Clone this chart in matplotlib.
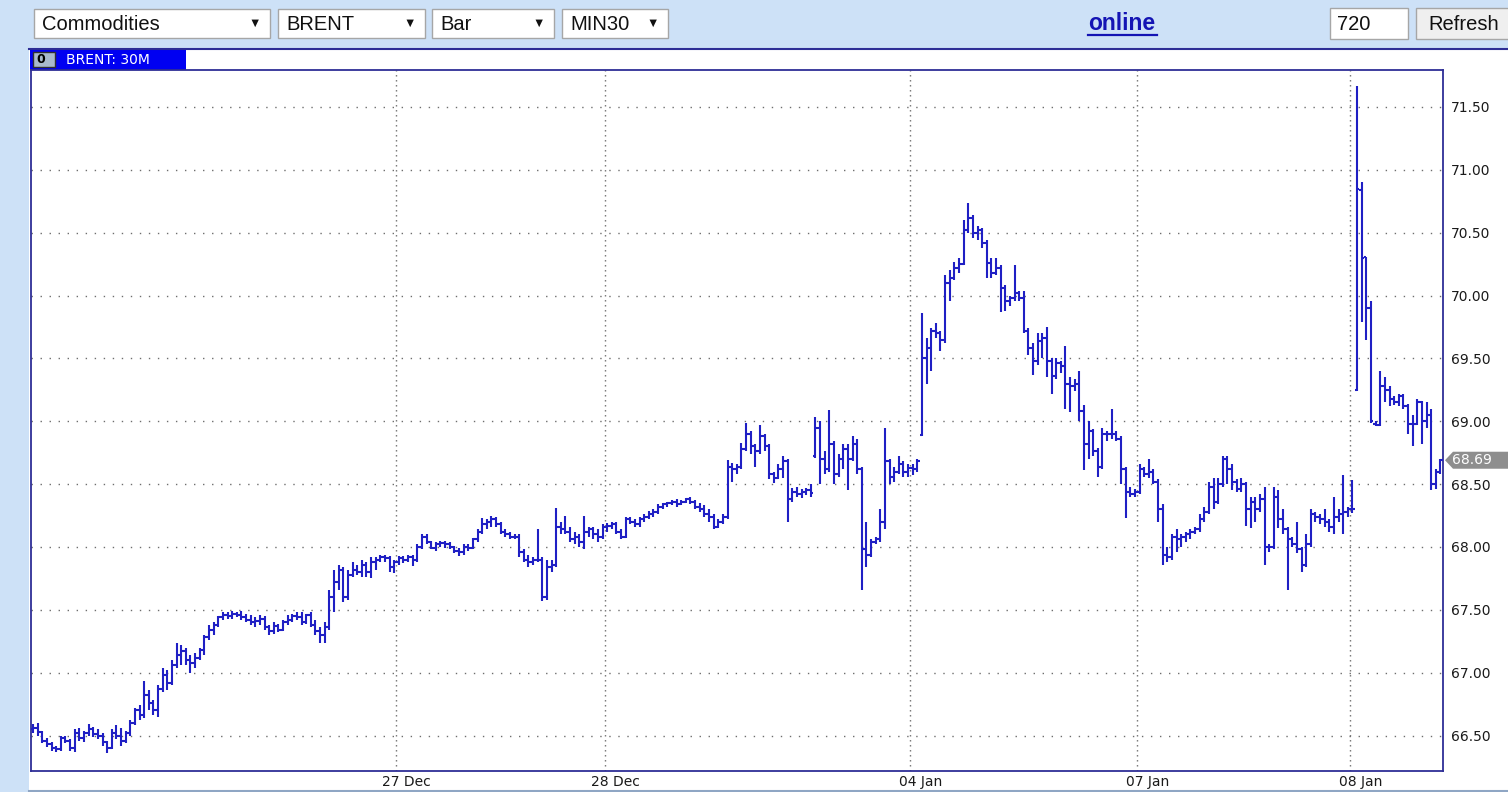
import matplotlib
matplotlib.use('Agg')
import matplotlib.pyplot as plt
from matplotlib.patches import Rectangle, Polygon
import numpy as np

# BRENT 30 minute bars (bar index = position on x axis)
opens = [
    66.55, 66.56, 66.53, 66.46, 66.43, 66.40, 66.39, 66.48, 66.46, 66.40,
    66.52, 66.48, 66.52, 66.55, 66.51, 66.50, 66.45, 66.40, 66.52, 66.50,
    66.46, 66.52, 66.60, 66.70, 66.66, 66.82, 66.76, 66.70, 66.87, 66.98,
    66.92, 67.06, 67.14, 67.17, 67.10, 67.08, 67.12, 67.18, 67.28, 67.34,
    67.38, 67.44, 67.46, 67.45, 67.47, 67.46, 67.44, 67.42, 67.40, 67.41,
    67.43, 67.36, 67.33, 67.37, 67.34, 67.40, 67.42, 67.45, 67.44, 67.40,
    67.46, 67.38, 67.33, 67.30, 67.36, 67.60, 67.72, 67.82, 67.60, 67.78,
    67.82, 67.80, 67.86, 67.80, 67.88, 67.90, 67.92, 67.91, 67.84, 67.88,
    67.91, 67.90, 67.92, 67.90, 68.00, 68.08, 68.04, 67.99, 68.02, 68.03,
    68.02, 68.00, 67.97, 67.96, 68.00, 67.99, 68.06, 68.12, 68.18, 68.20,
    68.22, 68.18, 68.12, 68.10, 68.08, 68.08, 67.96, 67.90, 67.88, 67.90,
    67.90, 67.60, 67.84, 67.86, 68.16, 68.14, 68.12, 68.06, 68.08, 68.04,
    68.12, 68.14, 68.10, 68.08, 68.16, 68.17, 68.18, 68.12, 68.08, 68.22,
    68.20, 68.18, 68.22, 68.24, 68.26, 68.28, 68.32, 68.34, 68.35, 68.36,
    68.34, 68.36, 68.38, 68.36, 68.32, 68.30, 68.26, 68.24, 68.16, 68.20,
    68.24, 68.64, 68.62, 68.64, 68.78, 68.90, 68.80, 68.76, 68.88, 68.80,
    68.58, 68.55, 68.62, 68.68, 68.38, 68.44, 68.42, 68.44, 68.45, 68.72,
    68.95, 68.70, 68.62, 68.82, 68.58, 68.70, 68.78, 68.70, 68.82, 68.62,
    67.98, 67.94, 68.04, 68.06, 68.20, 68.68, 68.56, 68.60, 68.66, 68.60,
    68.63, 68.62, 68.89, 69.50, 69.58, 69.72, 69.70, 69.65, 70.10, 70.14,
    70.22, 70.25, 70.52, 70.62, 70.50, 70.52, 70.42, 70.26, 70.18, 70.22,
    70.06, 69.96, 69.98, 70.02, 69.98, 69.72, 69.58, 69.48, 69.64, 69.66,
    69.48, 69.36, 69.46, 69.44, 69.30, 69.28, 69.30, 69.08, 68.82, 68.92,
    68.76, 68.64, 68.90, 68.90, 68.90, 68.86, 68.62, 68.44, 68.42, 68.44,
    68.62, 68.58, 68.60, 68.52, 68.30, 67.94, 67.92, 68.08, 68.06, 68.08,
    68.10, 68.12, 68.14, 68.22, 68.28, 68.48, 68.36, 68.50, 68.70, 68.62,
    68.52, 68.46, 68.50, 68.30, 68.36, 68.30, 68.38, 68.00, 68.00, 68.40,
    68.22, 68.14, 68.06, 68.02, 67.98, 67.86, 68.02, 68.26, 68.24, 68.22,
    68.20, 68.16, 68.24, 68.26, 68.28, 68.30, 69.25, 70.84, 70.31, 69.90,
    68.98, 68.97, 69.28, 69.25, 69.18, 69.15, 69.20, 69.12, 68.98, 68.98,
    69.15, 69.00, 69.05, 68.50, 68.60,
]
highs = [
    66.59, 66.60, 66.54, 66.48, 66.45, 66.42, 66.50, 66.50, 66.47, 66.55,
    66.56, 66.54, 66.59, 66.57, 66.55, 66.52, 66.46, 66.55, 66.58, 66.56,
    66.54, 66.62, 66.72, 66.74, 66.93, 66.86, 66.78, 66.90, 67.04, 67.02,
    67.10, 67.24, 67.22, 67.20, 67.14, 67.16, 67.20, 67.30, 67.38, 67.40,
    67.45, 67.48, 67.48, 67.49, 67.48, 67.49, 67.47, 67.46, 67.44, 67.46,
    67.45, 67.38, 67.40, 67.39, 67.42, 67.46, 67.47, 67.48, 67.48, 67.47,
    67.48, 67.42, 67.36, 67.40, 67.66, 67.82, 67.86, 67.84, 67.82, 67.88,
    67.86, 67.90, 67.88, 67.92, 67.92, 67.94, 67.94, 67.93, 67.90, 67.93,
    67.93, 67.94, 67.94, 68.02, 68.10, 68.10, 68.05, 68.04, 68.05, 68.05,
    68.04, 68.01, 67.99, 68.02, 68.02, 68.07, 68.14, 68.23, 68.22, 68.25,
    68.24, 68.20, 68.14, 68.12, 68.10, 68.10, 67.98, 67.94, 67.92, 68.14,
    67.92, 67.90, 67.90, 68.31, 68.20, 68.25, 68.16, 68.12, 68.10, 68.25,
    68.16, 68.16, 68.14, 68.18, 68.19, 68.20, 68.20, 68.14, 68.24, 68.24,
    68.22, 68.24, 68.26, 68.29, 68.30, 68.34, 68.35, 68.36, 68.37, 68.38,
    68.37, 68.39, 68.40, 68.37, 68.35, 68.33, 68.30, 68.26, 68.22, 68.26,
    68.69, 68.67, 68.66, 68.83, 68.99, 68.92, 68.82, 68.97, 68.90, 68.82,
    68.60, 68.66, 68.72, 68.70, 68.47, 68.48, 68.46, 68.47, 68.50, 69.03,
    69.00, 68.76, 69.09, 68.84, 68.74, 68.82, 68.82, 68.88, 68.86, 68.64,
    68.20, 68.06, 68.08, 68.30, 68.95, 68.70, 68.64, 68.72, 68.68, 68.66,
    68.66, 68.70, 69.86, 69.66, 69.74, 69.78, 69.72, 70.16, 70.20, 70.27,
    70.30, 70.60, 70.74, 70.64, 70.55, 70.54, 70.44, 70.30, 70.30, 70.24,
    70.08, 70.00, 70.24, 70.04, 70.04, 69.74, 69.62, 69.70, 69.70, 69.75,
    69.50, 69.50, 69.48, 69.60, 69.35, 69.34, 69.40, 69.13, 69.00, 68.94,
    68.79, 68.95, 68.92, 69.10, 68.92, 68.88, 68.64, 68.48, 68.46, 68.66,
    68.64, 68.70, 68.62, 68.54, 68.34, 68.00, 68.10, 68.14, 68.10, 68.12,
    68.14, 68.16, 68.26, 68.32, 68.52, 68.55, 68.55, 68.72, 68.72, 68.66,
    68.54, 68.55, 68.52, 68.40, 68.40, 68.42, 68.48, 68.02, 68.48, 68.45,
    68.30, 68.16, 68.08, 68.20, 68.00, 68.10, 68.30, 68.28, 68.26, 68.30,
    68.22, 68.40, 68.30, 68.57, 68.32, 68.53, 71.67, 70.90, 70.31, 69.96,
    69.00, 69.40, 69.35, 69.28, 69.20, 69.22, 69.22, 69.14, 69.05, 69.18,
    69.16, 69.15, 69.10, 68.62, 68.70,
]
lows = [
    66.52, 66.50, 66.44, 66.41, 66.38, 66.37, 66.38, 66.44, 66.38, 66.37,
    66.46, 66.45, 66.50, 66.49, 66.47, 66.42, 66.36, 66.39, 66.47, 66.42,
    66.44, 66.50, 66.58, 66.62, 66.64, 66.70, 66.66, 66.65, 66.85, 66.86,
    66.90, 67.04, 67.06, 67.06, 67.00, 67.04, 67.10, 67.14, 67.26, 67.30,
    67.36, 67.42, 67.43, 67.43, 67.44, 67.42, 67.40, 67.38, 67.36, 67.38,
    67.34, 67.30, 67.31, 67.32, 67.33, 67.38, 67.40, 67.42, 67.38, 67.39,
    67.36, 67.30, 67.24, 67.24, 67.34, 67.48, 67.66, 67.56, 67.58, 67.76,
    67.78, 67.76, 67.76, 67.75, 67.82, 67.88, 67.88, 67.80, 67.79, 67.86,
    67.87, 67.88, 67.85, 67.88, 67.98, 68.02, 67.98, 67.97, 68.00, 67.99,
    67.98, 67.95, 67.93, 67.94, 67.97, 67.98, 68.04, 68.10, 68.14, 68.16,
    68.16, 68.10, 68.08, 68.06, 68.06, 67.92, 67.88, 67.84, 67.86, 67.88,
    67.57, 67.58, 67.80, 67.84, 68.10, 68.10, 68.04, 68.02, 68.00, 67.98,
    68.08, 68.06, 68.04, 68.06, 68.12, 68.14, 68.10, 68.06, 68.07, 68.18,
    68.16, 68.16, 68.20, 68.22, 68.24, 68.26, 68.30, 68.32, 68.33, 68.32,
    68.33, 68.35, 68.34, 68.30, 68.28, 68.24, 68.20, 68.14, 68.15, 68.18,
    68.22, 68.52, 68.58, 68.62, 68.76, 68.74, 68.64, 68.74, 68.76, 68.54,
    68.51, 68.54, 68.55, 68.20, 68.36, 68.40, 68.39, 68.41, 68.40, 68.71,
    68.50, 68.58, 68.60, 68.50, 68.56, 68.62, 68.45, 68.68, 68.58, 67.66,
    67.84, 67.92, 68.02, 68.04, 68.14, 68.50, 68.52, 68.58, 68.56, 68.56,
    68.57, 68.60, 68.88, 69.30, 69.40, 69.66, 69.56, 69.62, 69.96, 70.12,
    70.18, 70.24, 70.50, 70.46, 70.44, 70.38, 70.14, 70.14, 70.16, 69.87,
    69.88, 69.92, 69.96, 69.96, 69.70, 69.53, 69.37, 69.45, 69.50, 69.35,
    69.22, 69.34, 69.38, 69.10, 69.07, 69.24, 69.00, 68.61, 68.70, 68.72,
    68.56, 68.62, 68.84, 68.86, 68.84, 68.50, 68.23, 68.40, 68.40, 68.42,
    68.56, 68.55, 68.50, 68.20, 67.86, 67.88, 67.90, 67.96, 68.00, 68.04,
    68.06, 68.10, 68.12, 68.20, 68.26, 68.30, 68.34, 68.48, 68.50, 68.45,
    68.44, 68.44, 68.17, 68.15, 68.20, 68.28, 67.86, 67.96, 67.98, 68.15,
    68.10, 67.66, 68.00, 67.95, 67.80, 67.84, 68.00, 68.20, 68.18, 68.16,
    68.12, 68.10, 68.20, 68.10, 68.24, 68.27, 69.24, 69.79, 69.65, 68.99,
    68.96, 68.96, 69.15, 69.12, 69.13, 69.12, 69.10, 68.90, 68.80, 68.97,
    68.82, 68.95, 68.45, 68.46, 68.58,
]
closes = [
    66.56, 66.53, 66.46, 66.43, 66.40, 66.39, 66.48, 66.46, 66.40, 66.52,
    66.48, 66.52, 66.55, 66.51, 66.50, 66.45, 66.40, 66.52, 66.50, 66.46,
    66.52, 66.60, 66.70, 66.66, 66.82, 66.76, 66.70, 66.87, 66.98, 66.92,
    67.06, 67.14, 67.17, 67.10, 67.08, 67.12, 67.18, 67.28, 67.34, 67.38,
    67.44, 67.46, 67.45, 67.47, 67.46, 67.44, 67.42, 67.40, 67.41, 67.43,
    67.36, 67.33, 67.37, 67.34, 67.40, 67.42, 67.45, 67.44, 67.40, 67.46,
    67.38, 67.33, 67.30, 67.36, 67.60, 67.72, 67.82, 67.60, 67.78, 67.82,
    67.80, 67.86, 67.80, 67.88, 67.90, 67.92, 67.91, 67.84, 67.88, 67.91,
    67.90, 67.92, 67.90, 68.00, 68.08, 68.04, 67.99, 68.02, 68.03, 68.02,
    68.00, 67.97, 67.96, 68.00, 67.99, 68.06, 68.12, 68.18, 68.20, 68.22,
    68.18, 68.12, 68.10, 68.08, 68.08, 67.96, 67.90, 67.88, 67.90, 67.90,
    67.60, 67.84, 67.86, 68.16, 68.14, 68.12, 68.06, 68.08, 68.04, 68.12,
    68.14, 68.10, 68.08, 68.16, 68.17, 68.18, 68.12, 68.08, 68.22, 68.20,
    68.18, 68.22, 68.24, 68.26, 68.28, 68.32, 68.34, 68.35, 68.36, 68.34,
    68.36, 68.38, 68.36, 68.32, 68.30, 68.26, 68.24, 68.16, 68.20, 68.24,
    68.64, 68.62, 68.64, 68.78, 68.90, 68.80, 68.76, 68.88, 68.80, 68.58,
    68.55, 68.62, 68.68, 68.38, 68.44, 68.42, 68.44, 68.45, 68.43, 68.95,
    68.70, 68.62, 68.82, 68.58, 68.70, 68.78, 68.70, 68.82, 68.62, 67.98,
    67.94, 68.04, 68.06, 68.20, 68.68, 68.56, 68.60, 68.66, 68.60, 68.63,
    68.62, 68.68, 69.50, 69.58, 69.72, 69.70, 69.65, 70.10, 70.14, 70.22,
    70.25, 70.52, 70.62, 70.50, 70.52, 70.42, 70.26, 70.18, 70.22, 70.06,
    69.96, 69.98, 70.02, 69.98, 69.72, 69.58, 69.48, 69.64, 69.66, 69.48,
    69.36, 69.46, 69.44, 69.30, 69.28, 69.30, 69.08, 68.82, 68.92, 68.76,
    68.64, 68.90, 68.90, 68.90, 68.86, 68.62, 68.44, 68.42, 68.44, 68.62,
    68.58, 68.60, 68.52, 68.30, 67.94, 67.92, 68.08, 68.06, 68.08, 68.10,
    68.12, 68.14, 68.22, 68.28, 68.48, 68.36, 68.50, 68.70, 68.62, 68.52,
    68.46, 68.50, 68.30, 68.36, 68.30, 68.38, 68.00, 68.00, 68.40, 68.22,
    68.14, 68.06, 68.02, 67.98, 67.86, 68.02, 68.26, 68.24, 68.22, 68.20,
    68.16, 68.24, 68.26, 68.28, 68.30, 68.30, 70.85, 70.30, 69.90, 69.00,
    68.97, 69.28, 69.25, 69.18, 69.15, 69.20, 69.12, 68.98, 68.98, 69.15,
    69.00, 69.05, 68.50, 68.60, 68.69,
]

# first bar of each labelled day
day_starts = [79, 124, 190, 239, 285]
day_labels = ['27 Dec', '28 Dec', '04 Jan', '07 Jan', '08 Jan']
price_ticks = [66.5, 67.0, 67.5, 68.0, 68.5, 69.0, 69.5, 70.0, 70.5, 71.0, 71.5]

W, H = 1508, 792
bar_col = '#1f1fc4'
frame_col = '#2e2e96'
ui_font = ['Liberation Sans', 'DejaVu Sans']

fig = plt.figure(figsize=(W / 100, H / 100), dpi=100)
fig.patch.set_facecolor('#cde1f7')

# page / toolbar drawn in pixel coordinates
ui = fig.add_axes([0, 0, 1, 1])
ui.set_xlim(0, W)
ui.set_ylim(H, 0)
ui.axis('off')


def dropdown(x0, x1, label):
    ui.add_patch(Rectangle((x0, 9), x1 - x0, 29, fc='white', ec='#a6a6a6', lw=1))
    ui.text(x0 + 8, 24, label, fontsize=14.5, family=ui_font, va='center', ha='left', color='#111111')
    ui.text(x1 - 15, 24, '\u25bc', fontsize=9, family=ui_font, va='center', ha='center', color='#111111')


dropdown(34, 270, 'Commodities')
dropdown(278, 425, 'BRENT')
dropdown(432, 554, 'Bar')
dropdown(562, 668, 'MIN30')

ui.text(1122, 23, 'online', fontsize=16.5, fontweight='bold', family=ui_font,
        color='#1414b4', ha='center', va='center')
ui.plot([1088, 1157], [34.5, 34.5], color='#1414b4', lw=1.6)

ui.add_patch(Rectangle((1330, 8), 78, 31, fc='white', ec='#a6a6a6', lw=1))
ui.text(1337, 24, '720', fontsize=14.5, family=ui_font, va='center', color='#111111')
ui.add_patch(Rectangle((1416, 8), 100, 31, fc='#efefef', ec='#a6a6a6', lw=1))
ui.text(1428, 24, 'Refresh', fontsize=14.5, family=ui_font, va='center', color='#111111')

# white chart panel with its tab
ui.add_patch(Rectangle((29, 48), W - 29, 742, fc='white', ec='none'))
ui.plot([29, W], [48.5, 48.5], color=frame_col, lw=1.5)
ui.plot([29, W], [790.5, 790.5], color='#8fa6c4', lw=1.5)
ui.add_patch(Rectangle((30, 49), 156, 21, fc='#0000f2', ec='none'))
ui.add_patch(Rectangle((33, 52), 22, 15, fc='#a9b9cc', ec='#303030', lw=1))
ui.text(41, 59.5, '0', fontsize=9, fontweight='bold', color='black', ha='center', va='center')
ui.text(66, 60, 'BRENT: 30M', fontsize=10, color='white', ha='left', va='center')

# price chart
ax = fig.add_axes([31 / W, 1 - 771 / H, (1443 - 31) / W, (771 - 70) / H])
ax.set_facecolor('white')
n = len(closes)
x = np.arange(n)
ax.set_xlim(-0.45, 304.55)
ax.set_ylim(66.218, 71.794)

for p in price_ticks:
    ax.axhline(p, color='#6e6e6e', lw=1.0, ls=(0, (1, 5.5)), zorder=1)
for d in day_starts:
    ax.axvline(d - 0.5, color='#6e6e6e', lw=1.0, ls=(0, (1, 2.6)), zorder=1)

ax.vlines(x, lows, highs, color=bar_col, lw=1.5, zorder=3)
ax.hlines(opens, x - 0.5, x, color=bar_col, lw=1.5, zorder=3)
ax.hlines(closes, x, x + 0.5, color=bar_col, lw=1.5, zorder=3)

ax.yaxis.tick_right()
ax.set_yticks(price_ticks)
ax.set_yticklabels([f'{p:.2f}' for p in price_ticks])
ax.set_xticks([d + 1.7 for d in day_starts])
ax.set_xticklabels(day_labels)
ax.tick_params(axis='y', length=0, pad=6, labelsize=10, labelcolor='#1a1a1a')
ax.tick_params(axis='x', length=0, pad=3, labelsize=10, labelcolor='#1a1a1a')
for s in ax.spines.values():
    s.set_color(frame_col)
    s.set_linewidth(1.3)

# last price marker on the right scale
last = closes[-1]
fig.canvas.draw()
y_px = H - ax.transData.transform((0, last))[1]
ui.add_patch(Polygon([(1445, y_px), (1453, y_px - 8.5), (W + 2, y_px - 8.5),
                      (W + 2, y_px + 8.5), (1453, y_px + 8.5)], closed=True,
                     fc='#8e8e8e', ec='none', zorder=5))
ui.text(1452, y_px, f'{last:.2f}', fontsize=10, color='white', ha='left', va='center', zorder=6)

fig.savefig('out.png', dpi=100, facecolor=fig.get_facecolor())
